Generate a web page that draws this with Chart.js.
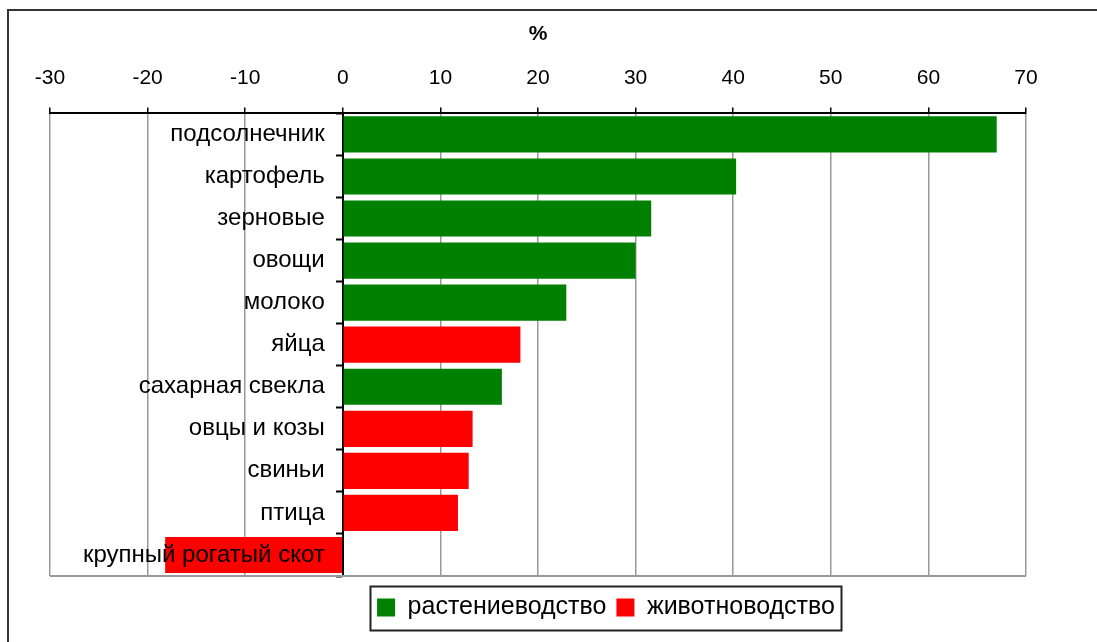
<!DOCTYPE html>
<html>
<head>
<meta charset="utf-8">
<script src="https://cdn.jsdelivr.net/npm/chart.js@4"></script>
<style>
  html, body { margin: 0; padding: 0; background: #fff; }
  #wrap { position: relative; width: 1097px; height: 642px; }
  #frame { position: absolute; left: 7px; top: 9px; width: 1100px; height: 700px;
           border-left: 2px solid #333; border-top: 2px solid #333; }
  canvas { position: absolute; left: 0; top: 0; }
</style>
</head>
<body>
<div id="wrap">
  <div id="frame"></div>
  <canvas id="chart" width="1097" height="642"></canvas>
</div>
<script>
// categories, top to bottom
const categories = ['подсолнечник', 'картофель', 'зерновые', 'овощи', 'молоко', 'яйца',
  'сахарная свекла', 'овцы и козы', 'свиньи', 'птица', 'крупный рогатый скот'];

// растениеводство (crops), % change
const cropValues = [67.0, 40.3, 31.6, 30.0, 22.9, null, 16.3, null, null, null, null];
// животноводство (livestock), % change
const livestockValues = [null, null, null, null, null, 18.2, null, 13.3, 12.9, 11.8, -18.2];

const seriesNames = ['растениеводство', 'животноводство'];
const xMin = -30, xMax = 70, xStep = 10;

const FONT = "'Liberation Sans', Arial, sans-serif";
// legend sits right of centre and a bit lower in the original
const LEGEND_DX = 68, LEGEND_DY = 9;

// bottom edge of the plot, legend moved and boxed
const framePlugin = {
  id: 'framePlugin',
  afterUpdate(chart) {
    const lg = chart.legend;
    lg.left += LEGEND_DX; lg.right += LEGEND_DX;
    lg.top += LEGEND_DY; lg.bottom += LEGEND_DY;
    lg.legendHitBoxes.forEach(h => { h.left += LEGEND_DX; h.top += LEGEND_DY; });
  },
  afterDraw(chart) {
    const ctx = chart.ctx;
    const a = chart.chartArea;
    ctx.save();
    ctx.strokeStyle = '#999';
    ctx.lineWidth = 2;
    ctx.beginPath();
    ctx.moveTo(a.left, a.bottom);
    ctx.lineTo(a.right, a.bottom);
    ctx.stroke();

    const boxes = chart.legend.legendHitBoxes;
    if (boxes && boxes.length) {
      let l = Infinity, r = -Infinity, t = Infinity, b = -Infinity;
      boxes.forEach(h => {
        l = Math.min(l, h.left); r = Math.max(r, h.left + h.width);
        t = Math.min(t, h.top); b = Math.max(b, h.top + h.height);
      });
      const cy = (t + b) / 2;
      ctx.strokeStyle = '#222';
      ctx.lineWidth = 2;
      ctx.strokeRect(Math.round(l - 7) + 0.5, Math.round(cy - 22) + 0.5, Math.round(r - l + 13), 44);
    }
    ctx.restore();
  }
};

new Chart(document.getElementById('chart'), {
  type: 'bar',
  data: {
    labels: categories,
    datasets: [
      { label: seriesNames[0], data: cropValues, backgroundColor: '#008000', borderWidth: 0,
        grouped: false, barPercentage: 0.86, categoryPercentage: 1 },
      { label: seriesNames[1], data: livestockValues, backgroundColor: '#ff0000', borderWidth: 0,
        grouped: false, barPercentage: 0.86, categoryPercentage: 1 }
    ]
  },
  options: {
    indexAxis: 'y',
    responsive: false,
    animation: false,
    layout: { padding: { left: 50, right: 71, top: 22, bottom: 21 } },
    scales: {
      x: {
        position: 'top',
        min: xMin, max: xMax,
        ticks: { stepSize: xStep, color: '#000', font: { family: FONT, size: 21 }, padding: 17 },
        grid: { color: '#999', lineWidth: 1.5, tickLength: 6, tickColor: '#000' },
        border: { color: '#000', width: 2 },
        title: { display: true, text: '%', color: '#000', font: { family: FONT, size: 21, weight: 'bold' }, padding: { top: 0, bottom: 1 } }
      },
      // zero line with the small category ticks
      y: {
        position: { x: 0 },
        ticks: { display: false },
        grid: { drawOnChartArea: false, offset: true, tickLength: 6, tickColor: '#000', tickWidth: 2 },
        border: { color: '#000', width: 2 }
      },
      // category names, just left of the zero line and above the bars
      yNames: {
        type: 'category',
        axis: 'y',
        offset: true,
        position: { x: -1.85 },
        ticks: { color: '#000', font: { family: FONT, size: 24 }, z: 1 },
        grid: { display: false },
        border: { display: false }
      }
    },
    plugins: {
      legend: {
        position: 'bottom',
        labels: { color: '#000', font: { family: FONT, size: 25 }, boxWidth: 18, boxHeight: 18, padding: 10 }
      },
      tooltip: { enabled: false }
    }
  },
  plugins: [framePlugin]
});
</script>
</body>
</html>
